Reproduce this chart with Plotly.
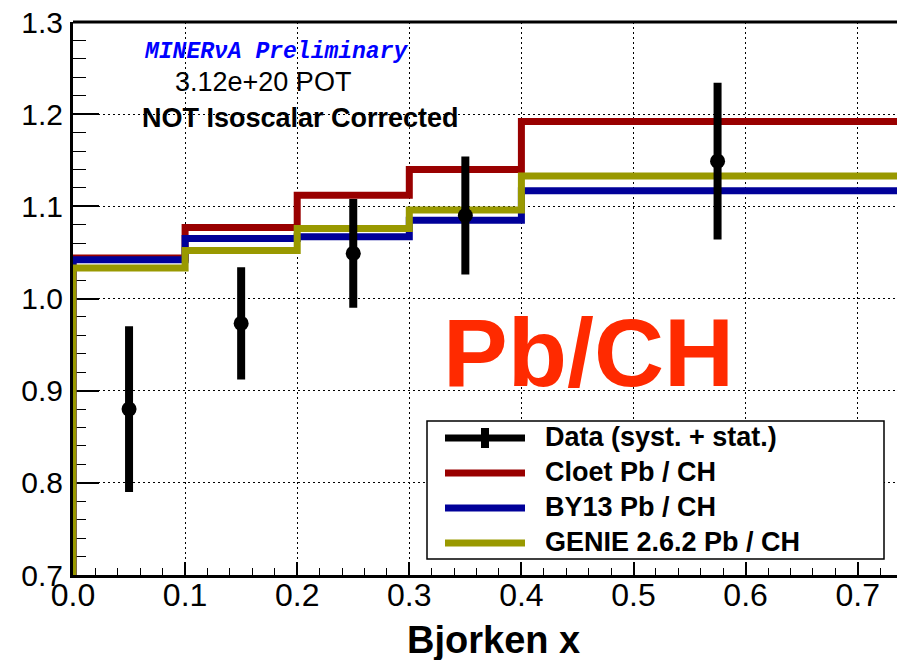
import plotly.graph_objects as go

# ---------------- data ----------------
bin_edges = [0.0, 0.1, 0.2, 0.3, 0.4, 0.75]
cloet = [1.044, 1.077, 1.112, 1.140, 1.192]
by13 = [1.042, 1.065, 1.067, 1.085, 1.117]
genie = [1.033, 1.052, 1.076, 1.096, 1.133]

data_x = [0.05, 0.15, 0.25, 0.35, 0.575]
data_y = [0.880, 0.973, 1.049, 1.090, 1.149]
data_err = [0.090, 0.061, 0.059, 0.064, 0.085]

legend_labels = ["Data (syst. + stat.)", "Cloet Pb / CH", "BY13 Pb / CH", "GENIE 2.6.2 Pb / CH"]
RED = "#990000"
BLUE = "#000099"
GOLD = "#999900"

# ---------------- geometry helpers (pixel -> paper) ----------------
W, H = 897, 660
L, R, T, B = 73, 897, 22, 575
def px(x):
    return (x - L) / (R - L)
def py(y):
    return (B - y) / (B - T)

FONT = "Liberation Sans, Arial, Helvetica, sans-serif"

def step_xy(vals):
    xs = [bin_edges[0]] + bin_edges[:-1] + [bin_edges[-1]]
    ys = [0.0] + list(vals) + [vals[-1]]
    return xs, ys

fig = go.Figure()
for vals, col, name in [(cloet, RED, legend_labels[1]), (by13, BLUE, legend_labels[2]), (genie, GOLD, legend_labels[3])]:
    xs, ys = step_xy(vals)
    fig.add_trace(go.Scatter(x=xs, y=ys, mode="lines", line=dict(color=col, width=7, shape="hv"),
                             name=name, showlegend=False, hoverinfo="skip"))

fig.add_trace(go.Scatter(
    x=data_x, y=data_y, mode="markers", name=legend_labels[0], showlegend=False,
    marker=dict(color="black", size=15, symbol="circle"),
    error_y=dict(type="data", array=data_err, visible=True, color="black", thickness=8, width=0),
))

xmax = (R - L) / 1121.0

fig.update_layout(
    width=W, height=H,
    margin=dict(l=L, r=W - R, t=T, b=H - B, pad=0),
    paper_bgcolor="white", plot_bgcolor="white",
    font=dict(family=FONT, color="black"),
    xaxis=dict(
        range=[0, xmax], dtick=0.1, tick0=0, tickformat=".1f",
        ticks="inside", ticklen=13, tickwidth=1.5, tickcolor="black",
        showline=True, linewidth=3, linecolor="black",
        showgrid=True, gridcolor="black", gridwidth=1, griddash="2px,3px",
        zeroline=False, layer="below traces",
        tickfont=dict(size=32, family=FONT, color="black"),
        minor=dict(dtick=0.02, tick0=0, ticks="inside", ticklen=7, tickwidth=1.2, tickcolor="black", showgrid=False),
        ticklabelstandoff=-10,
    ),
    yaxis=dict(
        range=[0.7, 1.3], dtick=0.1, tick0=0.7, tickformat=".1f",
        ticks="inside", ticklen=26, tickwidth=1.5, tickcolor="black",
        showline=True, linewidth=3, linecolor="black",
        showgrid=True, gridcolor="black", gridwidth=1, griddash="2px,3px",
        zeroline=False, layer="below traces",
        tickfont=dict(size=30, family=FONT, color="black"),
        minor=dict(dtick=0.02, tick0=0.7, ticks="inside", ticklen=13, tickwidth=1.2, tickcolor="black", showgrid=False),
        ticklabelstandoff=1,
    ),
)

shapes = []
# top frame line
shapes.append(dict(type="line", xref="paper", yref="paper", x0=0, x1=1, y0=1, y1=1,
                   line=dict(color="black", width=3)))
# legend box
shapes.append(dict(type="rect", xref="paper", yref="paper", x0=px(427), x1=px(884), y0=py(559), y1=py(421),
                   line=dict(color="black", width=1.5), fillcolor="white", layer="above"))
rows = [437, 472, 507, 542]
cols = ["black", RED, BLUE, GOLD]
for r, c in zip(rows, cols):
    shapes.append(dict(type="line", xref="paper", yref="paper", x0=px(445), x1=px(525), y0=py(r + 1), y1=py(r + 1),
                       line=dict(color=c, width=7), layer="above"))
# data legend vertical error bar
shapes.append(dict(type="line", xref="paper", yref="paper", x0=px(485), x1=px(485), y0=py(448), y1=py(428),
                   line=dict(color="black", width=8), layer="above"))
fig.update_layout(shapes=shapes)

ann = []
for r, lab in zip(rows, legend_labels):
    ann.append(dict(text=lab, xref="paper", yref="paper", x=px(543), y=py(r), xanchor="left", yanchor="middle",
                    showarrow=False, font=dict(family=FONT, size=27, color="black", weight="bold")))
ann.append(dict(text="MINERνA Preliminary", xref="paper", yref="paper", x=px(276), y=py(52),
                xanchor="center", yanchor="middle", showarrow=False,
                font=dict(family="Liberation Mono, Courier New, monospace", size=23, color="#0000ff",
                          weight="bold", style="italic")))
ann.append(dict(text="3.12e+20 POT", xref="paper", yref="paper", x=px(263), y=py(82),
                xanchor="center", yanchor="middle", showarrow=False,
                font=dict(family=FONT, size=27, color="black")))
ann.append(dict(text="NOT Isoscalar Corrected", xref="paper", yref="paper", x=px(300), y=py(118),
                xanchor="center", yanchor="middle", showarrow=False,
                font=dict(family=FONT, size=27, color="black", weight="bold")))
ann.append(dict(text="Pb/CH", xref="paper", yref="paper", x=px(588), y=py(352),
                xanchor="center", yanchor="middle", showarrow=False,
                font=dict(family=FONT, size=97, color="#ff2a00", weight="bold")))
ann.append(dict(text="Bjorken x", xref="paper", yref="paper", x=px(493), y=py(640),
                xanchor="center", yanchor="middle", showarrow=False,
                font=dict(family=FONT, size=38, color="black", weight="bold")))
fig.update_layout(annotations=ann)

fig.write_html("out.html")
